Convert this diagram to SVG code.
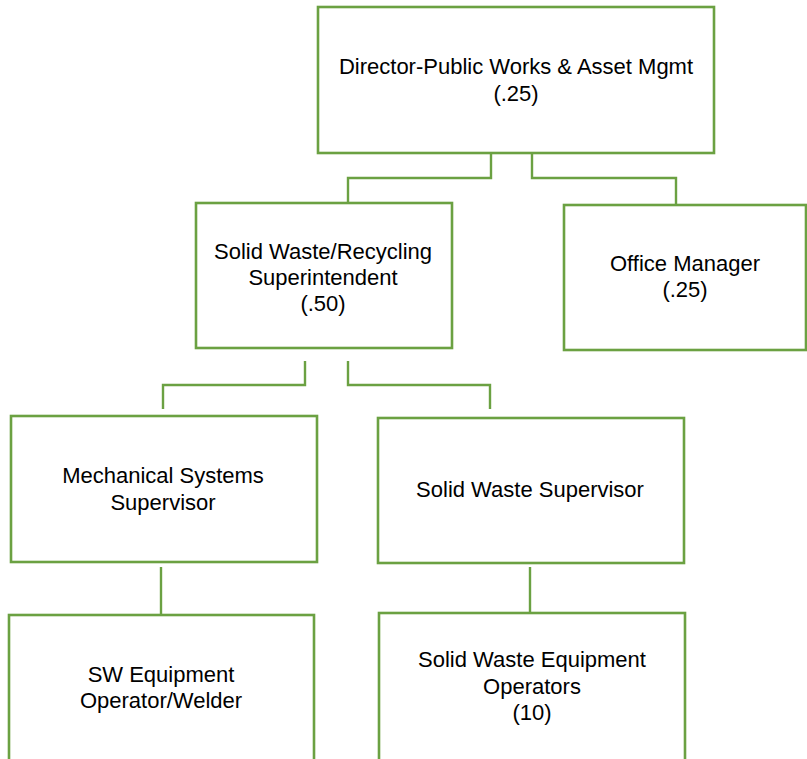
<svg xmlns="http://www.w3.org/2000/svg" width="807" height="759" viewBox="0 0 807 759">
<style>
.box{fill:#fff;stroke:#6BA142;stroke-width:2.6}
.con{fill:none;stroke:#6BA142;stroke-width:2.4}
text{font-family:"Liberation Sans",Arial,sans-serif;font-size:22px;fill:#000;text-anchor:middle}
</style>
<rect width="807" height="759" fill="#fff"/>
<g id="connectors">
<path class="con" d="M491 153 V178 H348 V203"/>
<path class="con" d="M532 153 V178 H676 V205"/>
<path class="con" d="M305 361 V385 H163 V409"/>
<path class="con" d="M348 361 V385 H490 V409"/>
<path class="con" d="M161 567 V615"/>
<path class="con" d="M530 567 V613"/>
</g>
<g id="director">
<rect class="box" x="318" y="7" width="396" height="146"/>
<text x="516" y="74">Director-Public Works &amp; Asset Mgmt</text>
<text x="516" y="101">(.25)</text>
</g>
<g id="superintendent">
<rect class="box" x="196" y="203" width="256" height="145"/>
<text x="323" y="259">Solid Waste/Recycling</text>
<text x="323" y="285">Superintendent</text>
<text x="323" y="311">(.50)</text>
</g>
<g id="office-manager">
<rect class="box" x="564" y="205" width="242" height="145"/>
<text x="685" y="271">Office Manager</text>
<text x="685" y="297">(.25)</text>
</g>
<g id="mechanical-supervisor">
<rect class="box" x="11" y="416" width="306" height="146"/>
<text x="163" y="483">Mechanical Systems</text>
<text x="163" y="510">Supervisor</text>
</g>
<g id="sw-supervisor">
<rect class="box" x="378" y="418" width="306" height="145"/>
<text x="530" y="497">Solid Waste Supervisor</text>
</g>
<g id="sw-operator-welder">
<rect class="box" x="9" y="615" width="305" height="200"/>
<text x="161" y="682">SW Equipment</text>
<text x="161" y="708">Operator/Welder</text>
</g>
<g id="sw-equipment-operators">
<rect class="box" x="379" y="613" width="306" height="200"/>
<text x="532" y="667">Solid Waste Equipment</text>
<text x="532" y="694">Operators</text>
<text x="532" y="720">(10)</text>
</g>
</svg>
